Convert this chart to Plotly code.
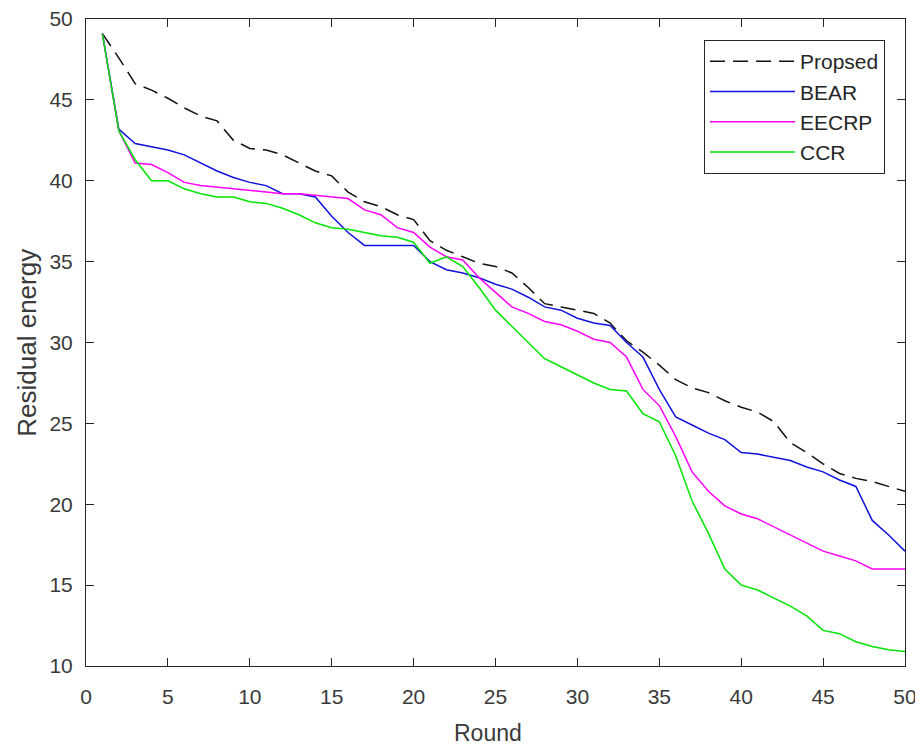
import plotly.graph_objects as go

rounds = list(range(1, 51))

propsed = [49.1, 47.6, 46.0, 45.6, 45.1, 44.5, 44.0, 43.7, 42.5, 42.0,
           41.9, 41.6, 41.1, 40.6, 40.3, 39.3, 38.7, 38.4, 37.9, 37.6,
           36.3, 35.7, 35.3, 34.9, 34.7, 34.3, 33.4, 32.4, 32.2, 32.0,
           31.8, 31.2, 30.1, 29.4, 28.6, 27.7, 27.2, 26.9, 26.4, 26.0,
           25.7, 25.1, 23.8, 23.2, 22.5, 21.9, 21.6, 21.4, 21.1, 20.8]

bear = [49.1, 43.2, 42.3, 42.1, 41.9, 41.6, 41.1, 40.6, 40.2, 39.9,
        39.7, 39.2, 39.2, 39.0, 37.8, 36.8, 36.0, 36.0, 36.0, 36.0,
        35.0, 34.5, 34.3, 34.0, 33.6, 33.3, 32.8, 32.2, 32.0, 31.5,
        31.2, 31.05, 30.0, 29.1, 27.1, 25.4, 24.9, 24.4, 24.0, 23.2,
        23.1, 22.9, 22.7, 22.3, 22.0, 21.5, 21.1, 19.0, 18.1, 17.1]

eecrp = [49.1, 43.1, 41.1, 41.0, 40.5, 39.9, 39.7, 39.6, 39.5, 39.4,
         39.3, 39.2, 39.2, 39.1, 39.0, 38.9, 38.2, 37.9, 37.1, 36.8,
         35.9, 35.3, 35.1, 34.0, 33.1, 32.2, 31.8, 31.3, 31.1, 30.7,
         30.2, 30.0, 29.1, 27.1, 26.1, 24.2, 22.0, 20.8, 19.9, 19.4,
         19.1, 18.6, 18.1, 17.6, 17.1, 16.8, 16.5, 16.0, 16.0, 16.0]

ccr = [49.1, 43.1, 41.3, 40.0, 40.0, 39.5, 39.2, 39.0, 39.0, 38.7,
       38.6, 38.3, 37.9, 37.4, 37.1, 37.0, 36.8, 36.6, 36.5, 36.2,
       34.9, 35.3, 34.7, 33.4, 32.0, 31.0, 30.0, 29.0, 28.5, 28.0,
       27.5, 27.1, 27.0, 25.6, 25.1, 23.0, 20.2, 18.2, 16.0, 15.0,
       14.7, 14.2, 13.7, 13.1, 12.2, 12.0, 11.5, 11.2, 11.0, 10.9]

x_ticks = [0, 5, 10, 15, 20, 25, 30, 35, 40, 45, 50]
y_ticks = [10, 15, 20, 25, 30, 35, 40, 45, 50]

FONT = "Arial, Liberation Sans, Helvetica"

fig = go.Figure()
series = [("Propsed", propsed, "#111111", "15px,8px"),
          ("BEAR", bear, "#1212dd", "solid"),
          ("EECRP", eecrp, "#ff00ff", "solid"),
          ("CCR", ccr, "#00e600", "solid")]
for name, vals, color, dash in series:
    fig.add_trace(go.Scatter(x=rounds, y=vals, mode="lines", name=name,
                             line=dict(color=color, width=1.5, dash=dash)))

axis_common = dict(
    showgrid=False, zeroline=False, showline=True, linecolor="#262626",
    linewidth=1, mirror="ticks", ticks="inside", ticklen=8,
    tickcolor="#262626", automargin=False, ticklabeloverflow="allow",
    tickfont=dict(family=FONT, size=21, color="#3a3a3a"),
)

# the page has an 8px body margin, so the figure fills the rest of the 923x747 window
fig.update_layout(
    width=915, height=739,
    paper_bgcolor="white", plot_bgcolor="white",
    margin=dict(l=78, r=18, t=11, b=81),
    font=dict(family=FONT, color="#262626"),
    xaxis=dict(range=[0, 50], tickvals=x_ticks, ticklabelstandoff=12, **axis_common),
    yaxis=dict(range=[10, 50], tickvals=y_ticks, ticklabelstandoff=8, **axis_common),
    legend=dict(x=0.9756, y=0.9675, xanchor="right", yanchor="top",
                bgcolor="white", bordercolor="#262626", borderwidth=1,
                font=dict(family=FONT, size=21, color="#262626"),
                tracegroupgap=0, itemwidth=85),
    showlegend=True,
    annotations=[
        dict(text="Round", xref="paper", yref="paper", x=0.491, y=-0.1036,
             xanchor="center", yanchor="middle", showarrow=False,
             font=dict(family=FONT, size=23, color="#3a3a3a")),
        dict(text="Residual energy", xref="paper", yref="paper", x=-0.073, y=0.5,
             xanchor="center", yanchor="middle", showarrow=False, textangle=-90,
             font=dict(family=FONT, size=26, color="#3a3a3a")),
    ],
)

fig.write_html("out.html")
